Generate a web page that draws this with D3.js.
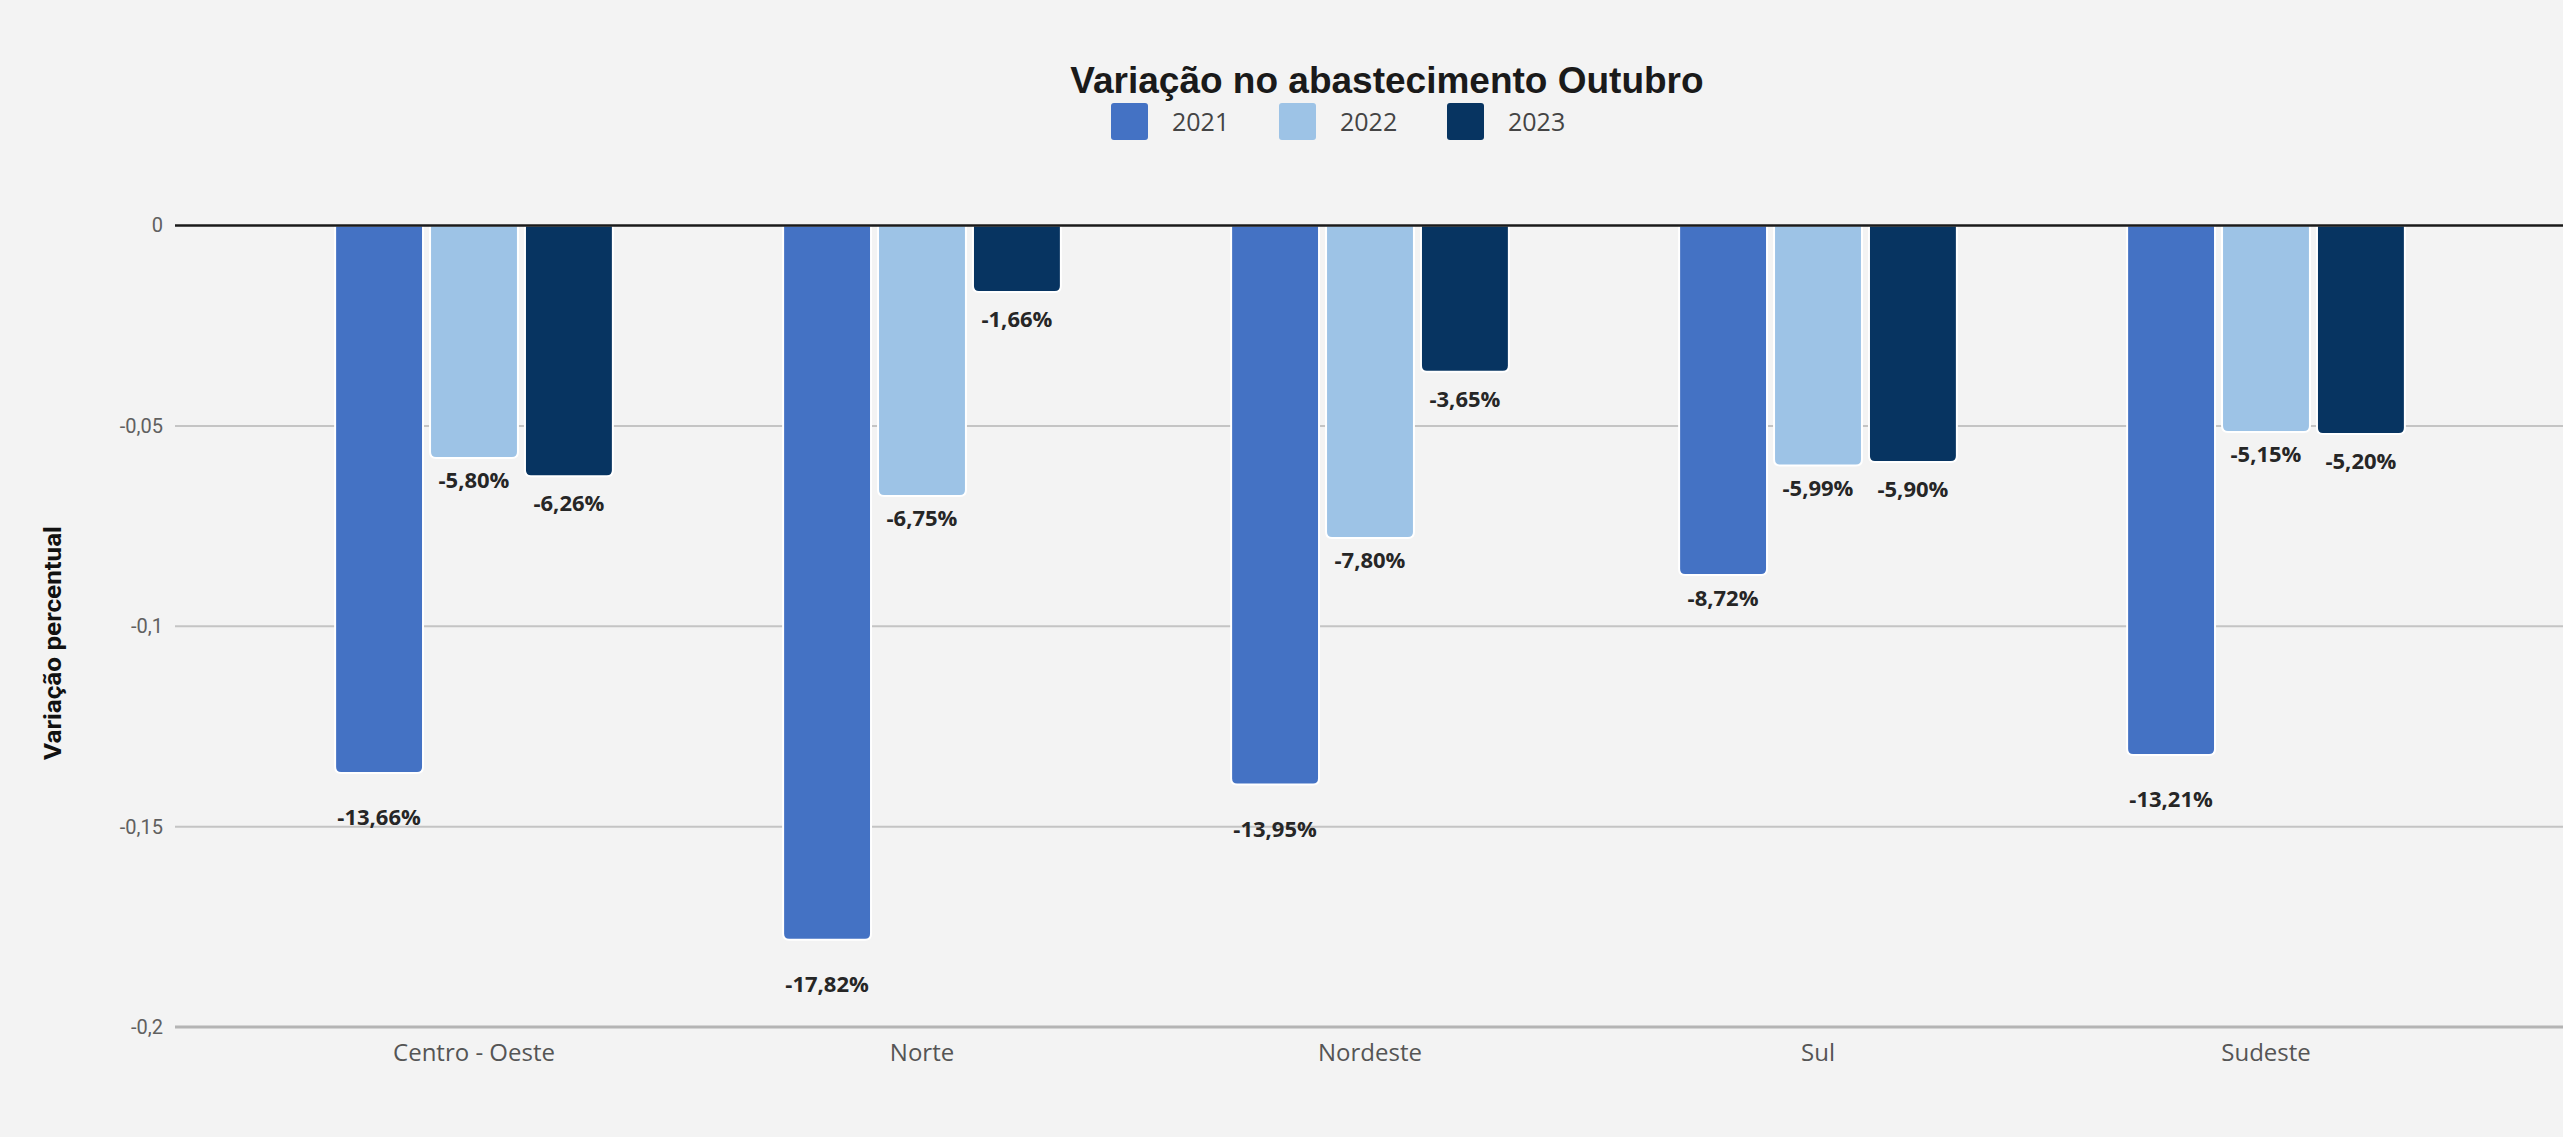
<!DOCTYPE html>
<html>
<head>
<meta charset="utf-8">
<script src="https://cdn.jsdelivr.net/npm/d3@7"></script>
<style>
  body { margin: 0; background: #f3f3f3; }
  svg { display: block; }
</style>
</head>
<body>
<div id="chart"></div>
<script>
// data
var regions = ['Centro - Oeste', 'Norte', 'Nordeste', 'Sul', 'Sudeste'];
var years = ['2021', '2022', '2023'];
var v2021 = [-0.1366, -0.1782, -0.1395, -0.0872, -0.1321];
var v2022 = [-0.0580, -0.0675, -0.0780, -0.0599, -0.0515];
var v2023 = [-0.0626, -0.0166, -0.0365, -0.0590, -0.0520];
var yTicks = [0, -0.05, -0.1, -0.15, -0.2];

var seriesValues = [v2021, v2022, v2023];
var colors = ['#4472c4', '#9dc3e6', '#073461'];

var width = 2563, height = 1137;
var locale = d3.formatLocale({decimal: ',', thousands: '.', grouping: [3], currency: ['R$', ''], minus: '-'});
var tickFmt = locale.format('~r');
var pctFmt = locale.format('.2%');

//distance of the value label below the bar end
function labelGap(d) {
  if (d.si == 0) return (d.value < -0.1) ? 44 : 23;
  return (d.si == 1) ? 22 : 27;
}

var svg = d3.select('#chart').append('svg')
  .attr('width', width)
  .attr('height', height);

var y = d3.scaleLinear().domain([-0.2, 0]).range([1027, 225.5]);

var x0 = d3.scaleBand()
  .domain(regions)
  .range([250, 2490])
  .paddingInner(0.38)
  .paddingOuter(0.19);

var x1 = d3.scaleBand()
  .domain(years)
  .range([0, x0.bandwidth()])
  .paddingInner(0.074);

var gridLeft = 175;

// gridlines
svg.append('g')
  .selectAll('line')
  .data(yTicks.filter(function(d) { return d !== 0; }))
  .enter().append('line')
    .attr('x1', gridLeft)
    .attr('x2', width)
    .attr('y1', function(d) { return y(d); })
    .attr('y2', function(d) { return y(d); })
    .attr('stroke', function(d) { return d === -0.2 ? '#b4b4b4' : '#c4c4c4'; })
    .attr('stroke-width', function(d) { return d === -0.2 ? 3 : 2; });

// y axis tick labels
var yAxis = svg.append('g')
  .attr('transform', 'translate(' + gridLeft + ',0)')
  .call(d3.axisLeft(y).tickValues(yTicks).tickFormat(tickFmt).tickSize(0).tickPadding(12));
yAxis.select('.domain').remove();
yAxis.selectAll('text')
  .attr('fill', '#606060')
  .style('font-family', 'Roboto, sans-serif')
  .style('font-size', '20px');

// bars with rounded bottom corners
function barPath(x, w, y0, y1, r) {
  r = Math.min(r, (y1 - y0) / 2);
  return 'M' + x + ',' + y0 +
    'H' + (x + w) +
    'V' + (y1 - r) +
    'Q' + (x + w) + ',' + y1 + ' ' + (x + w - r) + ',' + y1 +
    'H' + (x + r) +
    'Q' + x + ',' + y1 + ' ' + x + ',' + (y1 - r) +
    'Z';
}

var rows = [];
regions.forEach(function(reg, i) {
  years.forEach(function(yr, j) {
    rows.push({region: reg, year: yr, si: j, value: seriesValues[j][i]});
  });
});

var bars = svg.append('g').selectAll('g')
  .data(rows)
  .enter().append('g')
    .attr('transform', function(d) { return 'translate(' + (x0(d.region) + x1(d.year)) + ',0)'; });

bars.append('path')
  .attr('d', function(d) { return barPath(0, x1.bandwidth(), y(0), y(d.value), 6); })
  .attr('fill', function(d) { return colors[d.si]; })
  .attr('stroke', '#ffffff')
  .attr('stroke-width', 2);

bars.append('text')
  .attr('x', x1.bandwidth() / 2)
  .attr('y', function(d) { return y(d.value) + labelGap(d) + 8; })
  .attr('text-anchor', 'middle')
  .attr('fill', '#262626')
  .style('font-family', '"Open Sans", sans-serif')
  .style('font-weight', 700)
  .style('font-size', '22px')
  .text(function(d) { return pctFmt(d.value); });

// zero line
svg.append('line')
  .attr('x1', gridLeft)
  .attr('x2', width)
  .attr('y1', y(0))
  .attr('y2', y(0))
  .attr('stroke', '#1a1a1a')
  .attr('stroke-width', 2.5);

// category labels
var xAxis = svg.append('g')
  .attr('transform', 'translate(0,' + y(-0.2) + ')')
  .call(d3.axisBottom(x0).tickSize(0).tickPadding(17));
xAxis.select('.domain').remove();
xAxis.selectAll('text')
  .attr('fill', '#555555')
  .style('font-family', '"Open Sans", sans-serif')
  .style('font-size', '24px');

// y axis title
svg.append('text')
  .attr('transform', 'translate(61,643) rotate(-90)')
  .attr('text-anchor', 'middle')
  .attr('fill', '#111111')
  .attr('textLength', 234)
  .attr('lengthAdjust', 'spacingAndGlyphs')
  .style('font-family', 'Roboto, sans-serif')
  .style('font-weight', 'bold')
  .style('font-size', '23px')
  .text('Variação percentual');

// title
svg.append('text')
  .attr('x', 1387)
  .attr('y', 93)
  .attr('text-anchor', 'middle')
  .attr('fill', '#1a1a1a')
  .style('font-family', '"Liberation Sans", Arial, sans-serif')
  .style('font-weight', 'bold')
  .style('font-size', '37px')
  .text('Variação no abastecimento Outubro');

// legend
var legend = svg.append('g').attr('transform', 'translate(1111,103)')
  .selectAll('g')
  .data(years)
  .enter().append('g')
    .attr('transform', function(d, i) { return 'translate(' + (i * 168) + ',0)'; });

legend.append('rect')
  .attr('width', 37)
  .attr('height', 37)
  .attr('rx', 3)
  .attr('fill', function(d, i) { return colors[i]; });

legend.append('text')
  .attr('x', 61)
  .attr('y', 28)
  .attr('fill', '#444444')
  .style('font-family', '"Open Sans", sans-serif')
  .style('font-size', '25px')
  .text(function(d) { return d; });
</script>
</body>
</html>
